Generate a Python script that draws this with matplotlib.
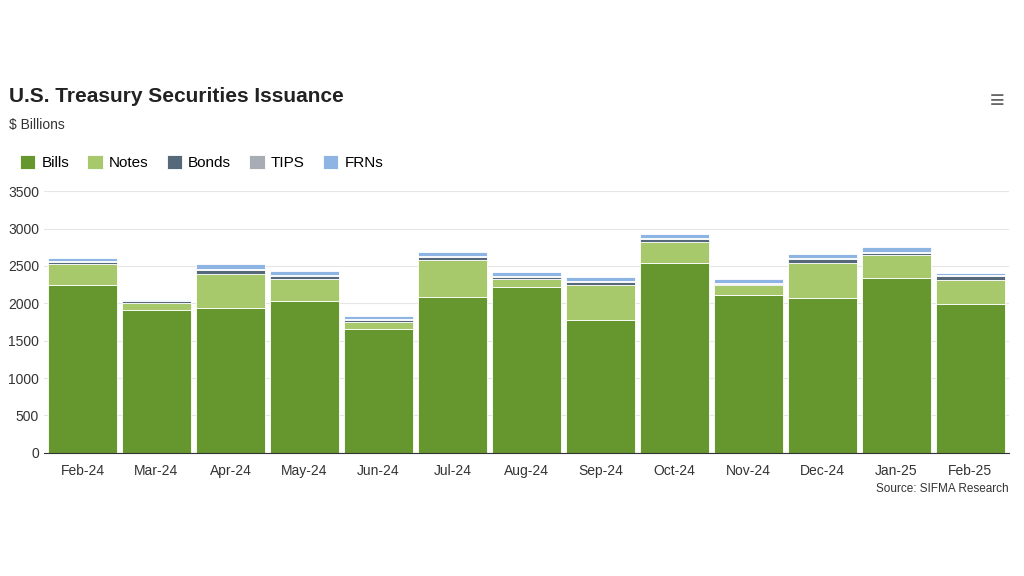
import matplotlib
import numpy as np

matplotlib.use('Agg')
import matplotlib.pyplot as plt  # noqa: E402

MONTHS = ['Feb-24', 'Mar-24', 'Apr-24', 'May-24', 'Jun-24', 'Jul-24', 'Aug-24',
          'Sep-24', 'Oct-24', 'Nov-24', 'Dec-24', 'Jan-25', 'Feb-25']
BILLS = [2240, 1905, 1935, 2030, 1660, 2080, 2220, 1770, 2545, 2115, 2065, 2335, 1985]
NOTES = [280, 95, 455, 300, 90, 500, 110, 470, 280, 125, 475, 310, 325]
BONDS = [35, 25, 60, 40, 25, 40, 25, 50, 30, 25, 55, 30, 55]
TIPS = [15, 10, 15, 15, 15, 15, 15, 15, 15, 10, 15, 15, 10]
FRNS = [40, 15, 60, 45, 45, 55, 45, 45, 55, 45, 50, 60, 35]

SERIES = [('Bills', BILLS, '#66962e'), ('Notes', NOTES, '#a8c96b'),
          ('Bonds', BONDS, '#56697a'), ('TIPS', TIPS, '#a8acb5'),
          ('FRNs', FRNS, '#8db4e2')]

plt.rcParams['font.family'] = 'Liberation Sans'
fig = plt.figure(figsize=(10.24, 5.76), dpi=100)
ax = fig.add_axes([0.043, 0.214, 0.942, 0.454])

x = np.arange(len(MONTHS))
bottom = np.zeros(len(MONTHS))
for name, vals, color in SERIES:
    ax.bar(x, vals, bottom=bottom, width=0.93, color=color, label=name,
           edgecolor='white', linewidth=0.6, zorder=2)
    bottom += np.array(vals)

ax.set_xlim(-0.52, len(MONTHS) - 0.48)
ax.set_ylim(0, 3500)
ax.set_yticks(range(0, 3501, 500))
ax.set_xticks(x, MONTHS)
ax.tick_params(axis='both', length=0, labelsize=10, colors='#333333')
ax.tick_params(axis='x', pad=8)
ax.grid(axis='y', color='#e6e6e6', lw=0.8, zorder=0)
for s in ['top', 'right', 'left']:
    ax.spines[s].set_visible(False)
ax.spines['bottom'].set_color('#333333')

fig.text(0.009, 0.823, 'U.S. Treasury Securities Issuance', fontsize=15,
         fontweight='bold', color='#222222')
fig.text(0.009, 0.776, '$ Billions', fontsize=10, color='#333333')
fig.text(0.985, 0.146, 'Source: SIFMA Research', fontsize=8.5,
         color='#333333', ha='right')
fig.text(0.974, 0.812, '\u2261', fontsize=18, color='#666666', ha='center')

fig.legend(loc='upper left', bbox_to_anchor=(0.006, 0.755), ncol=5, frameon=False,
           fontsize=11, handlelength=1.0, handleheight=1.0, handletextpad=0.4,
           columnspacing=1.2)

fig.savefig('out.png', dpi=100)
